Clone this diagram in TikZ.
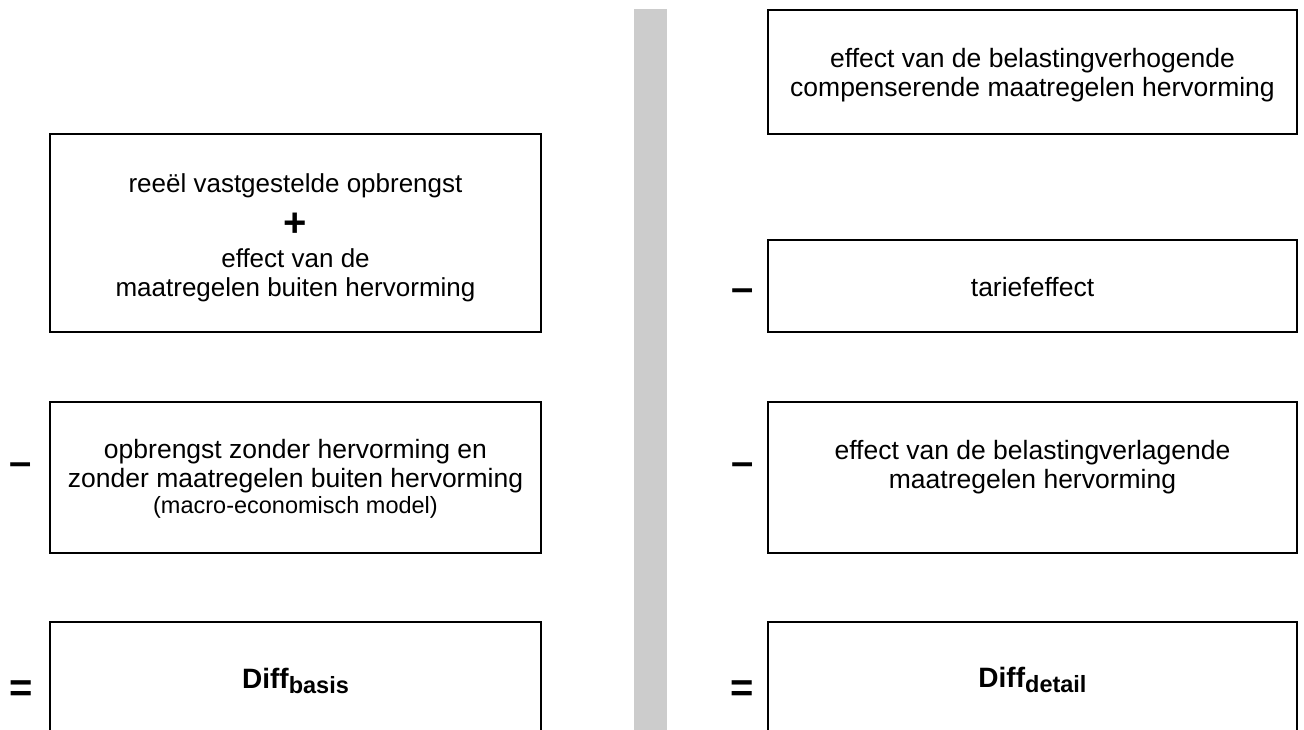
\documentclass[tikz,border=0pt]{standalone}
\usepackage{fontspec}
\setmainfont{Liberation Sans}
\definecolor{bargray}{RGB}{204,204,204}
\begin{document}
\begin{tikzpicture}[x=1pt,y=-1pt,
  box/.style={draw=black, line width=2pt, rectangle, inner sep=0pt, fill=white},
  txt/.style={font=\fontsize{26.5}{30}\selectfont, inner sep=0pt, anchor=base},
  txta/.style={font=\fontsize{26}{30}\selectfont, inner sep=0pt, anchor=base},
  smalltxt/.style={font=\fontsize{23.5}{27}\selectfont, inner sep=0pt, anchor=base},
  diffl/.style={font=\fontsize{28}{28}\selectfont\bfseries, inner sep=0pt, anchor=base},
  op/.style={font=\fontsize{40}{40}\selectfont\bfseries, inner sep=0pt},
  bar/.style={fill=bargray, draw=none, rectangle, inner sep=0pt}]
\clip (0,0) rectangle (1304,729);
\fill[white] (0,0) rectangle (1304,729);
% separator bar
\node[bar, minimum width=33pt, minimum height=751pt] (sep) at (650.5,384.5) {};
% left column boxes
\node[box, minimum width=491pt, minimum height=198pt] (L1) at (295.5,233) {};
\node[box, minimum width=491pt, minimum height=151pt] (L2) at (295.5,477.5) {};
\node[box, minimum width=491pt, minimum height=138pt] (L3) at (295.5,691) {};
% right column boxes
\node[box, minimum width=529pt, minimum height=124pt] (R1) at (1032.5,72) {};
\node[box, minimum width=529pt, minimum height=92pt] (R2) at (1032.5,286) {};
\node[box, minimum width=529pt, minimum height=151pt] (R3) at (1032.5,477.5) {};
\node[box, minimum width=529pt, minimum height=138pt] (R4) at (1032.5,691) {};
% left texts
\node[txta] (L1a) at (295.5,192) {reeël vastgestelde opbrengst};
\node[op]  (L1p) at (295.5,225) {+};
\node[txta] (L1c) at (295.5,267) {effect van de};
\node[txta] (L1d) at (295.5,296) {maatregelen buiten hervorming};
\node[txt] (L2a) at (295.5,458) {opbrengst zonder hervorming en};
\node[txt] (L2b) at (295.5,487) {zonder maatregelen buiten hervorming};
\node[smalltxt] (L2c) at (295.5,513) {(macro-economisch model)};
\node[diffl] (L3t) at (295.5,688) {Diff\raisebox{-5pt}{\fontsize{23.5}{23.5}\selectfont basis}};
% right texts
\node[txt] (R1a) at (1032.5,67) {effect van de belastingverhogende};
\node[txt] (R1b) at (1032.5,96) {compenserende maatregelen hervorming};
\node[txt] (R2a) at (1032.5,296) {tariefeffect};
\node[txt] (R3a) at (1032.5,459) {effect van de belastingverlagende};
\node[txt] (R3b) at (1032.5,488) {maatregelen hervorming};
\node[diffl] (R4t) at (1032.5,687) {Diff\raisebox{-5pt}{\fontsize{23.5}{23.5}\selectfont detail}};
% operators
\node[op] (Lmin) at (21,469) {–};
\node[op] (Leq)  at (21,691) {=};
\node[op] (Rmin1) at (743,295) {–};
\node[op] (Rmin2) at (743,469) {–};
\node[op] (Req)  at (742,691) {=};
\end{tikzpicture}
\end{document}
